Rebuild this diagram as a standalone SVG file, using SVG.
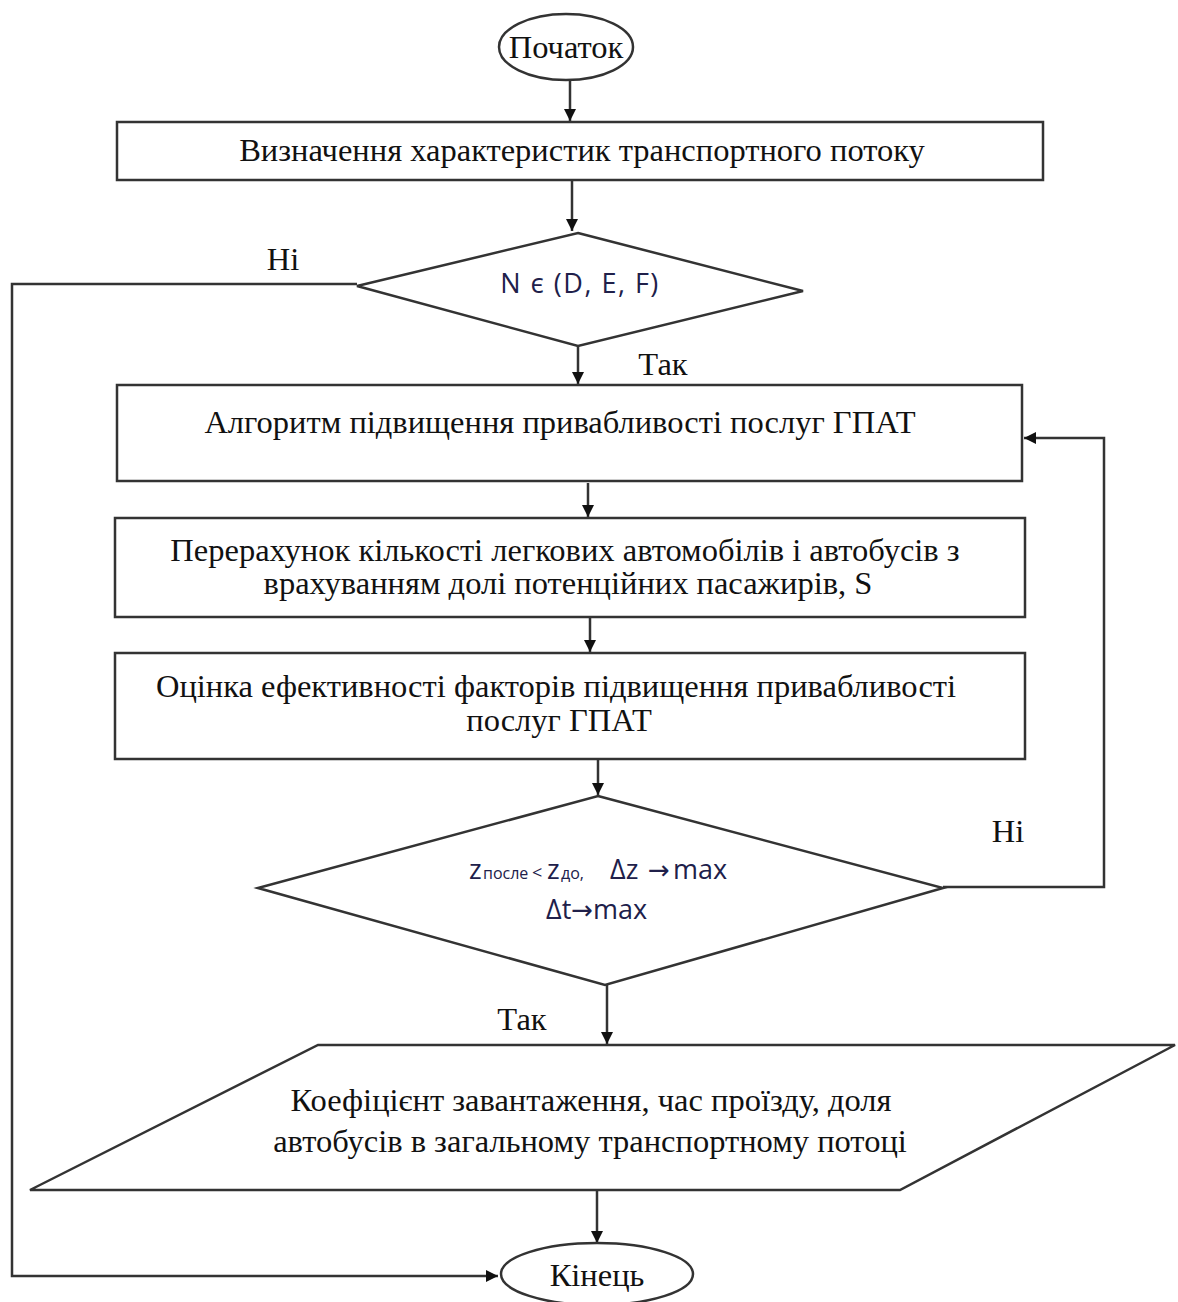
<svg xmlns="http://www.w3.org/2000/svg" width="1178" height="1302" viewBox="0 0 1178 1302">
<style>
.s{fill:#fff;stroke:#333;stroke-width:2.5}
.t{font-family:"Liberation Serif","Times New Roman",serif;font-size:32.5px;fill:#111;text-anchor:middle}
.m{font-family:"Open Sans","Liberation Sans",sans-serif;font-size:27px;fill:#20204a}
.ar{font-family:"DejaVu Sans",sans-serif}
.c{fill:none;stroke:#333;stroke-width:2.5}
</style>
<defs>
<marker id="b" viewBox="0 0 10 10" refX="10" refY="5" markerWidth="12" markerHeight="12" markerUnits="userSpaceOnUse" orient="auto">
<path d="M0,0 L10,5 L0,10 z" fill="#111"/>
</marker>
</defs>
<rect width="1178" height="1302" fill="#fff"/>
<g id="connectors">
<path class="c" d="M570,80 V121" marker-end="url(#b)"/>
<path class="c" d="M572,180 V231" marker-end="url(#b)"/>
<path class="c" d="M357,284 H12 V1276 H498" marker-end="url(#b)"/>
<path class="c" d="M578,346 V384" marker-end="url(#b)"/>
<path class="c" d="M943,887 H1104 V438 H1024" marker-end="url(#b)"/>
<path class="c" d="M588,483 V517" marker-end="url(#b)"/>
<path class="c" d="M590,618 V652" marker-end="url(#b)"/>
<path class="c" d="M598,759 V795" marker-end="url(#b)"/>
<path class="c" d="M607,985 V1044" marker-end="url(#b)"/>
<path class="c" d="M597,1190 V1243" marker-end="url(#b)"/>
</g>
<g id="start">
<ellipse class="s" cx="566" cy="47" rx="67" ry="33"/>
<text class="t" x="566" y="58">Початок</text>
</g>
<g id="step1">
<rect class="s" x="117" y="122" width="926" height="58"/>
<text class="t" x="582" y="161">Визначення характеристик транспортного потоку</text>
</g>
<g id="decision1">
<polygon class="s" points="578,233 803,291 578,346 357,286"/>
<text class="m" x="580" y="293" text-anchor="middle" font-size="28" letter-spacing="1.5">N є (D, E, F)</text>
<text class="t" x="283" y="270">Ні</text>
<text class="t" x="663" y="375">Так</text>
</g>
<g id="step2">
<rect class="s" x="117" y="385" width="905" height="96"/>
<text class="t" x="560" y="433">Алгоритм підвищення привабливості послуг ГПАТ</text>
</g>
<g id="step3">
<rect class="s" x="115" y="518" width="910" height="99"/>
<text class="t" x="565" y="561">Перерахунок кількості легкових автомобілів і автобусів з</text>
<text class="t" x="568" y="594">врахуванням долі потенційних пасажирів, S</text>
</g>
<g id="step4">
<rect class="s" x="115" y="653" width="910" height="106"/>
<text class="t" x="556" y="697">Оцінка ефективності факторів підвищення привабливості</text>
<text class="t" x="559" y="731">послуг ГПАТ</text>
</g>
<g id="decision2">
<polygon class="s" points="598,796 943,888 605,985 258,888"/>
<text class="m" y="879"><tspan x="469">z</tspan><tspan x="483" font-size="16">после</tspan><tspan x="532" font-size="18">&lt;</tspan><tspan x="547">z</tspan><tspan x="561" font-size="16">до,</tspan><tspan x="610">Δz</tspan><tspan x="648" class="ar" font-size="26">→</tspan><tspan x="673">max</tspan></text>
<text class="m" y="919"><tspan x="546">Δt</tspan><tspan class="ar" font-size="26">→</tspan><tspan>max</tspan></text>
<text class="t" x="1008" y="842">Ні</text>
<text class="t" x="522" y="1030">Так</text>
</g>
<g id="output">
<polygon class="s" points="318,1045 1175,1045 900,1190 30,1190"/>
<text class="t" x="591" y="1111">Коефіцієнт завантаження, час проїзду, доля</text>
<text class="t" x="590" y="1152">автобусів в загальному транспортному потоці</text>
</g>
<g id="end">
<ellipse class="s" cx="597" cy="1274" rx="96" ry="31"/>
<text class="t" x="597" y="1286">Кінець</text>
</g>
</svg>
